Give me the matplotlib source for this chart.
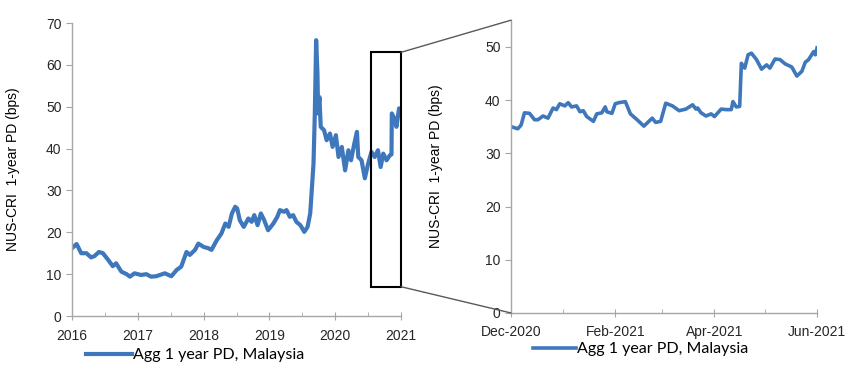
import pandas as pd
import matplotlib.pyplot as plt
import matplotlib.dates as mdates
from matplotlib.patches import Rectangle, ConnectionPatch

# full history (decimal year, bps)
hist_year = [2016.0, 2016.07, 2016.14, 2016.22, 2016.29, 2016.34, 2016.41, 2016.47,
             2016.55, 2016.62, 2016.67, 2016.75, 2016.83, 2016.88, 2016.95, 2017.05,
             2017.13, 2017.2, 2017.28, 2017.41, 2017.51, 2017.59, 2017.66, 2017.74,
             2017.79, 2017.87, 2017.92, 2018.0, 2018.07, 2018.12, 2018.2, 2018.27,
             2018.33, 2018.38, 2018.43, 2018.48, 2018.51, 2018.55, 2018.61, 2018.68,
             2018.73, 2018.77, 2018.82, 2018.87, 2018.92, 2018.98, 2019.06, 2019.12,
             2019.16, 2019.22, 2019.26, 2019.31, 2019.36, 2019.41, 2019.47, 2019.53,
             2019.58, 2019.62, 2019.67, 2019.69, 2019.71, 2019.73, 2019.74, 2019.76,
             2019.78, 2019.83, 2019.87, 2019.92, 2019.96, 2020.01, 2020.05, 2020.1,
             2020.15, 2020.2, 2020.24, 2020.29, 2020.33, 2020.35, 2020.4, 2020.45,
             2020.5, 2020.55, 2020.6, 2020.65, 2020.69, 2020.73, 2020.78, 2020.83,
             2020.855, 2020.86, 2020.91, 2020.93, 2020.97, 2020.99]
hist_pd = [16.2, 17.2, 15.0, 15.0, 14.0, 14.3, 15.3, 15.0,
           13.4, 11.9, 12.6, 10.6, 10.0, 9.4, 10.2, 9.8,
           10.0, 9.4, 9.5, 10.2, 9.5, 11.0, 11.8, 15.3,
           14.6, 15.8, 17.3, 16.5, 16.2, 15.8, 18.1, 19.7,
           22.1, 21.3, 24.5, 26.1, 25.7, 22.9, 21.3, 23.3,
           22.5, 24.1, 21.7, 24.5, 22.9, 20.5, 22.1, 23.7,
           25.3, 24.9, 25.3, 23.7, 24.1, 22.5, 21.7, 20.1,
           21.3, 24.5, 36.4, 48.4, 65.9, 57.9, 48.4, 52.3,
           45.2, 44.4, 42.0, 43.6, 40.4, 43.2, 38.0, 40.4,
           34.8, 39.6, 37.2, 41.2, 44.0, 38.0, 37.2, 32.9,
           36.4, 39.2, 38.0, 39.6, 35.6, 38.8, 37.2, 38.4,
           38.6, 48.4, 46.8, 45.2, 49.6, 48.4]

# zoomed window: days after 1 Dec 2020, bps
zoom_start = "2020-12-01"
zoom_days = [0, 4, 6, 8, 11, 14, 16, 19, 22, 25, 27, 29, 32, 34, 36, 39, 41, 43,
             45, 49, 51, 54, 56, 57, 60, 62, 64, 68, 71, 75, 79, 81, 84, 86, 89,
             92, 96, 100, 104, 108, 110, 111, 113, 116, 119, 121, 125, 128, 131,
             132, 134, 136, 137, 139, 141, 143, 146, 149, 152, 154, 157, 160, 163,
             167, 170, 173, 175, 177, 180, 181, 182]
zoom_pd = [35.0, 34.6, 35.3, 37.6, 37.5, 36.3, 36.3, 37.0, 36.6, 38.5, 38.2, 39.3,
           38.9, 39.5, 38.7, 38.9, 37.8, 38.0, 36.9, 36.0, 37.4, 37.6, 38.7, 37.8,
           37.5, 39.3, 39.5, 39.7, 37.4, 36.3, 35.1, 35.7, 36.6, 35.8, 36.0, 39.4,
           38.9, 38.0, 38.3, 39.1, 38.3, 38.5, 37.6, 37.0, 37.4, 36.9, 38.3, 38.2,
           38.2, 39.7, 38.7, 38.8, 46.9, 46.0, 48.5, 48.8, 47.6, 45.8, 46.6, 46.0,
           47.7, 47.6, 46.8, 46.2, 44.5, 45.4, 47.1, 47.6, 49.1, 48.5, 49.8]

year_ticks = [2016, 2017, 2018, 2019, 2020, 2021]
label = "Agg 1 year PD, Malaysia"
ylab = "NUS-CRI  1-year PD (bps)"

BLUE = "#3F77BC"
GRAY = "#A6A6A6"

plt.rcParams["font.family"] = ["Liberation Sans", "DejaVu Sans"]
plt.rcParams["font.size"] = 10

fig = plt.figure(figsize=(8.5, 3.73), dpi=100)
ax1 = fig.add_axes([0.0847, 0.1528, 0.3871, 0.7855])
ax2 = fig.add_axes([0.6012, 0.1609, 0.3600, 0.7850])


def style(ax):
    for s in ["top", "right"]:
        ax.spines[s].set_visible(False)
    for s in ["left", "bottom"]:
        ax.spines[s].set_color(GRAY)
        ax.spines[s].set_linewidth(1.0)
    ax.tick_params(axis="both", which="both", color=GRAY, labelcolor="#262626")
    ax.tick_params(axis="x", which="major", direction="inout", length=6, pad=6)
    ax.tick_params(axis="x", which="minor", direction="in", length=3)
    ax.tick_params(axis="y", direction="out", length=4)


# left: full history
ax1.plot(hist_year, hist_pd, color=BLUE, lw=3.0, solid_joinstyle="round")
ax1.set_xlim(2016, 2021)
ax1.set_ylim(0, 70)
ax1.set_xticks(year_ticks)
ax1.set_xticks([y + 0.5 for y in year_ticks[:-1]], minor=True)
ax1.set_yticks(range(0, 71, 10))
ax1.set_ylabel(ylab, labelpad=19)
style(ax1)
ax1.legend([label], loc="center left", bbox_to_anchor=(86 / 850, 1 - 355 / 373),
           bbox_transform=fig.transFigure, frameon=False, handlelength=2.9,
           handletextpad=0.05, borderpad=0, borderaxespad=0,
           prop={"family": "Lato", "size": 11.5})

# zoom box
x0, x1, y0, y1 = 2020.55, 2021.0, 7, 63
ax1.add_patch(Rectangle((x0, y0), x1 - x0, y1 - y0, fill=False, ec="black",
                        lw=1.5, zorder=5, clip_on=False))

# right: zoomed window
zoom_dates = pd.Timestamp(zoom_start) + pd.to_timedelta(zoom_days, unit="D")
ax2.plot(zoom_dates, zoom_pd, color=BLUE, lw=2.6, solid_joinstyle="round")
ax2.set_xlim(pd.Timestamp("2020-12-01"), pd.Timestamp("2021-06-01"))
ax2.set_ylim(0, 55)
ax2.set_yticks(range(0, 51, 10))
ax2.xaxis.set_major_locator(mdates.MonthLocator(bymonth=[12, 2, 4, 6]))
ax2.xaxis.set_minor_locator(mdates.MonthLocator())
ax2.xaxis.set_major_formatter(mdates.DateFormatter("%b-%Y"))
ax2.set_ylabel(ylab, labelpad=30)
style(ax2)
ax2.legend([label], loc="center left", bbox_to_anchor=(533 / 850, 1 - 349 / 373),
           bbox_transform=fig.transFigure, frameon=False, handlelength=2.7,
           handletextpad=0.05, borderpad=0, borderaxespad=0,
           prop={"family": "Lato", "size": 11.5})

# connector lines from box to zoom panel
for ya, yb in [(y1, 1.0), (y0, 0.0)]:
    con = ConnectionPatch(xyA=(x1, ya), coordsA=ax1.transData,
                          xyB=(0, yb), coordsB=ax2.transAxes,
                          color="#595959", lw=1.0)
    fig.add_artist(con)

plt.savefig("out.png", dpi=100)
